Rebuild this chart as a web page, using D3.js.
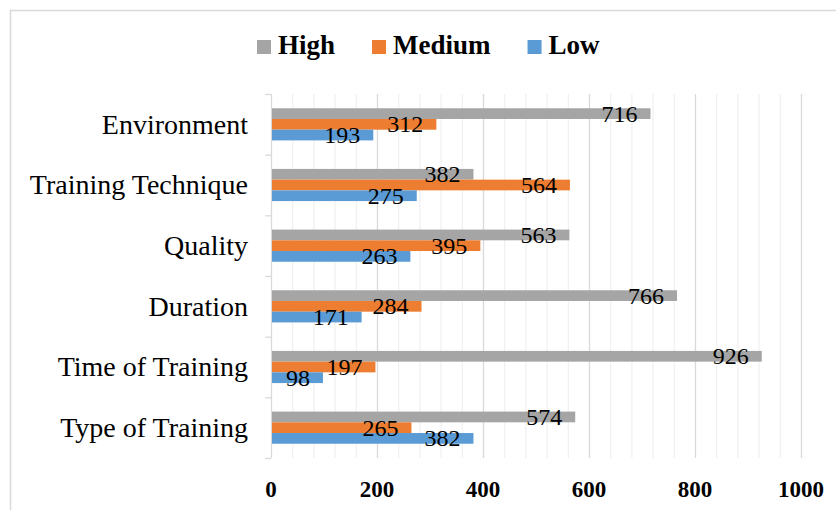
<!DOCTYPE html>
<html>
<head>
<meta charset="utf-8">
<script src="https://cdn.jsdelivr.net/npm/d3@7"></script>
<style>
body { margin: 0; background: #fff; }
</style>
</head>
<body>
<div id="container"></div>
<script>

var categories = ["Environment", "Training Technique", "Quality", "Duration", "Time of Training", "Type of Training"];
var seriesNames = ["High", "Medium", "Low"];
var high = [716, 382, 563, 766, 926, 574];
var medium = [312, 564, 395, 284, 197, 265];
var low = [193, 275, 263, 171, 98, 382];
var xTicks = [0, 200, 400, 600, 800, 1000];
var colors = ["#A5A5A5", "#ED7D31", "#5B9BD5"];
var serif = "'Liberation Serif', 'Times New Roman', serif";


function build_rows() {
	var rows = [];
	for (var i = 0; i < categories.length; i++) {
		rows.push({cat: categories[i], vals: [
			{key: "High", v: high[i]},
			{key: "Medium", v: medium[i]},
			{key: "Low", v: low[i]}
		]});
	};
	return rows;
};


function drawit(rows) {
	var W = 836, H = 510;
	var left = 271, right = 801, top = 94, bottom = 458;

	var svg = d3.select("#container")
		.append("svg")
		.attr("width", W)
		.attr("height", H)
		.attr("font-family", serif);

	// chart frame, runs off the right and bottom edge like the picture
	svg.append("rect")
		.attr("x", 10.5).attr("y", 10.5)
		.attr("width", W).attr("height", H)
		.attr("fill", "none")
		.attr("stroke", "#d9d9d9")
		.attr("stroke-width", 1.5);

	var x = d3.scaleLinear().domain([0, 1000]).range([left, right]);
	var y = d3.scaleBand().domain(categories).range([top, bottom]).paddingInner(0.47).paddingOuter(0.235);
	var yInner = d3.scaleBand().domain(seriesNames).range([0, y.bandwidth()]);
	var color = d3.scaleOrdinal().domain(seriesNames).range(colors);

	// minor gridlines every 40, major every 200
	svg.append("g").selectAll("line")
		.data(d3.range(40, 1001, 40).filter(function(d) { return d % 200 != 0; }))
		.enter().append("line")
		.attr("x1", function(d) { return x(d) + 0.5; })
		.attr("x2", function(d) { return x(d) + 0.5; })
		.attr("y1", top).attr("y2", bottom)
		.attr("stroke", "#f0f0f0")
		.attr("stroke-width", 1.2);

	svg.append("g").selectAll("line")
		.data(xTicks.slice(1))
		.enter().append("line")
		.attr("x1", function(d) { return x(d) + 0.5; })
		.attr("x2", function(d) { return x(d) + 0.5; })
		.attr("y1", top).attr("y2", bottom)
		.attr("stroke", "#d9d9d9")
		.attr("stroke-width", 1.3);

	// category axis line + ticks at band edges
	svg.append("line")
		.attr("x1", left + 0.5).attr("x2", left + 0.5)
		.attr("y1", top).attr("y2", bottom)
		.attr("stroke", "#d9d9d9").attr("stroke-width", 1.3);

	var step = y.step();
	svg.append("g").selectAll("line")
		.data(d3.range(0, categories.length + 1))
		.enter().append("line")
		.attr("x1", left - 6).attr("x2", left)
		.attr("y1", function(i) { return top + i * step + 0.5; })
		.attr("y2", function(i) { return top + i * step + 0.5; })
		.attr("stroke", "#d9d9d9").attr("stroke-width", 1.3);

	// category labels
	svg.append("g").selectAll("text")
		.data(categories)
		.enter().append("text")
		.attr("x", 248)
		.attr("y", function(d) { return y(d) + y.bandwidth() / 2; })
		.attr("dy", "0.33em")
		.attr("text-anchor", "end")
		.attr("font-family", serif)
		.attr("font-size", 28)
		.attr("fill", "#000")
		.text(function(d) { return d; });

	// x tick labels
	svg.append("g").selectAll("text")
		.data(xTicks)
		.enter().append("text")
		.attr("x", function(d) { return x(d); })
		.attr("y", 497)
		.attr("text-anchor", "middle")
		.attr("font-family", serif)
		.attr("font-size", 23)
		.attr("font-weight", "bold")
		.attr("fill", "#000")
		.text(function(d) { return d; });

	// bars
	var groups = svg.append("g").selectAll("g")
		.data(rows)
		.enter().append("g")
		.attr("transform", function(d) { return "translate(0," + y(d.cat) + ")"; });

	groups.selectAll("rect")
		.data(function(d) { return d.vals; })
		.enter().append("rect")
		.attr("x", x(0) + 1)
		.attr("y", function(d) { return yInner(d.key); })
		.attr("width", function(d) { return x(d.v) - x(0) - 1; })
		.attr("height", yInner.bandwidth())
		.attr("fill", function(d) { return color(d.key); });

	groups.selectAll("text")
		.data(function(d) { return d.vals; })
		.enter().append("text")
		.attr("x", function(d) { return x(d.v) - 13; })
		.attr("y", function(d) { return yInner(d.key) + yInner.bandwidth() / 2; })
		.attr("dy", "0.33em")
		.attr("text-anchor", "end")
		.attr("font-family", serif)
		.attr("font-size", 24)
		.attr("fill", "#000")
		.text(function(d) { return d.v; });

	// legend
	var legend = svg.append("g");
	var lx = 257;
	for (var i = 0; i < seriesNames.length; i++) {
		legend.append("rect")
			.attr("x", lx).attr("y", 40)
			.attr("width", 14).attr("height", 14)
			.attr("fill", colors[i]);
		var t = legend.append("text")
			.attr("x", lx + 21).attr("y", 54)
			.attr("font-family", serif)
			.attr("font-size", 27)
			.attr("font-weight", "bold")
			.attr("fill", "#000")
			.text(seriesNames[i]);
		lx = lx + 21 + t.node().getComputedTextLength() + 37;
	};
};


function main() {
	var rows = build_rows();
	drawit(rows);
};


main()

</script>
</body>
</html>
